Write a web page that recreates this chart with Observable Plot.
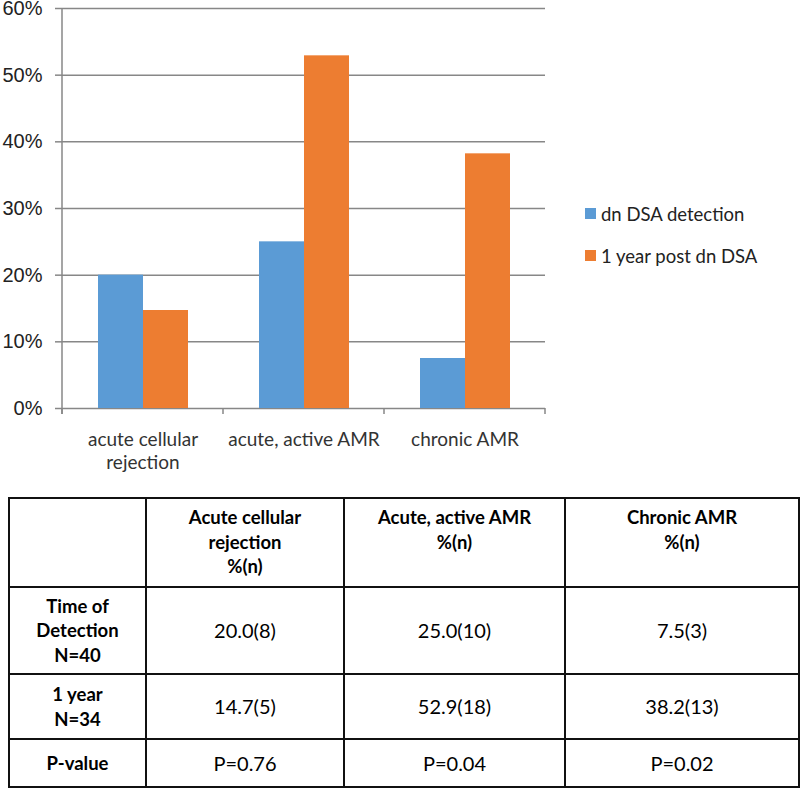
<!DOCTYPE html>
<html>
<head>
<meta charset="utf-8">
<script src="https://cdn.jsdelivr.net/npm/d3@7"></script>
<script src="https://cdn.jsdelivr.net/npm/@observablehq/plot@0.6"></script>
<style>
  html, body { margin: 0; padding: 0; background: #fff; }
  #wrap { position: relative; width: 800px; height: 789px; overflow: hidden; }
  #chart { position: absolute; left: 0; top: 0; }
  #legend { position: absolute; left: 585px; top: 203px; font-family: Lato, sans-serif; font-size: 18.5px; color: #222; }
  #legend .item { display: flex; align-items: center; height: 21px; margin-bottom: 21px; }
  #legend .sw { width: 11px; height: 11px; margin-right: 5px; flex: none; }
  #tbl { position: absolute; left: 8px; top: 497px; border-collapse: collapse; font-family: Lato, sans-serif; font-size: 20px; color: #000; table-layout: fixed; }
  #tbl td { border: 2px solid #111; text-align: center; vertical-align: middle; padding: 0; white-space: pre-line; line-height: 24.5px; }
  #tbl tr.head td { vertical-align: top; padding-top: 6px; font-weight: bold; font-size: 18.5px; }
  #tbl td.rl { font-weight: bold; font-size: 18.5px; }
</style>
</head>
<body>
<div id="wrap">
  <div id="chart"></div>
  <div id="legend"></div>
  <table id="tbl"></table>
</div>
<script>
const categories = ["acute cellular rejection", "acute, active AMR", "chronic AMR"];
const categoryLabels = ["acute cellular\nrejection", "acute, active AMR", "chronic AMR"];
const series = ["dn DSA detection", "1 year post dn DSA"];
const seriesColors = ["#5B9BD5", "#ED7D31"];
const detectionPct = [20.0, 25.0, 7.5];
const oneYearPct = [14.7, 52.9, 38.2];
const detectionN = [8, 10, 3];
const oneYearN = [5, 18, 13];
const pValues = ["P=0.76", "P=0.04", "P=0.02"];
const yTicks = [0, 10, 20, 30, 40, 50, 60];
const tableHeaders = ["", "Acute cellular\nrejection\n%(n)", "Acute, active AMR\n%(n)", "Chronic AMR\n%(n)"];
const rowLabels = ["Time of\nDetection\nN=40", "1 year\nN=34", "P-value"];

const data = categories.flatMap((c, i) => [
  {category: c, series: series[0], value: detectionPct[i]},
  {category: c, series: series[1], value: oneYearPct[i]}
]);

const chart = Plot.plot({
  width: 800,
  height: 480,
  marginLeft: 61,
  marginRight: 254,
  marginTop: 8,
  marginBottom: 72,
  style: {fontFamily: "Lato, sans-serif", background: "white", overflow: "visible"},
  fx: {domain: categories, padding: 0, label: null},
  x: {domain: series, paddingInner: 0, paddingOuter: 0.76, axis: null},
  y: {domain: [0, 60], label: null},
  color: {domain: series, range: seriesColors},
  marks: [
    Plot.ruleY(yTicks, {stroke: "#878787", strokeWidth: 1.5}),
    Plot.barY(data, {fx: "category", x: "series", y: "value", fill: "series"}),
    Plot.axisY({ticks: yTicks, tickSize: 7, tickPadding: 13, tickFormat: d => d + "%",
      fontSize: 20, fontFamily: "'Liberation Sans', Arial, sans-serif", fill: "#222",
      stroke: "#878787", strokeWidth: 1.5, label: null}),
    Plot.axisFx({anchor: "bottom", tickSize: 0, tickPadding: 20,
      tickFormat: d => categoryLabels[categories.indexOf(d)],
      fontSize: 19, lineHeight: 1.26, fill: "#333", label: null})
  ]
});
document.getElementById("chart").appendChild(chart);

// axis line and category boundary ticks from the plot's own scales
const fxS = chart.scale("fx"), yS = chart.scale("y");
const edges = categories.map(c => fxS.apply(c));
edges.push(fxS.apply(categories[categories.length - 1]) + fxS.bandwidth);
const g = d3.select(chart).append("g").attr("stroke", "#878787").attr("stroke-width", 1.5);
g.append("line").attr("x1", edges[0]).attr("x2", edges[0]).attr("y1", yS.apply(60)).attr("y2", yS.apply(0) + 6);
edges.forEach(x => g.append("line").attr("x1", x).attr("x2", x).attr("y1", yS.apply(0)).attr("y2", yS.apply(0) + 6));

// legend
const legend = d3.select("#legend");
series.forEach((s, i) => {
  const it = legend.append("div").attr("class", "item");
  it.append("div").attr("class", "sw").style("background", seriesColors[i]);
  it.append("span").text(s);
});

// table
const colWidths = [137, 198, 221, 234];
const rowHeights = [89, 87, 65, 48];
const tbl = d3.select("#tbl").style("width", d3.sum(colWidths) + "px");
const cg = tbl.append("colgroup");
colWidths.forEach(w => cg.append("col").style("width", w + "px"));
const hr = tbl.append("tr").attr("class", "head").style("height", rowHeights[0] + "px");
tableHeaders.forEach(h => hr.append("td").text(h));
const rows = [
  detectionPct.map((v, i) => v.toFixed(1) + "(" + detectionN[i] + ")"),
  oneYearPct.map((v, i) => v.toFixed(1) + "(" + oneYearN[i] + ")"),
  pValues
];
rows.forEach((r, ri) => {
  const tr = tbl.append("tr").style("height", rowHeights[ri + 1] + "px");
  tr.append("td").attr("class", "rl").text(rowLabels[ri]);
  r.forEach(v => tr.append("td").text(v));
});
</script>
</body>
</html>
